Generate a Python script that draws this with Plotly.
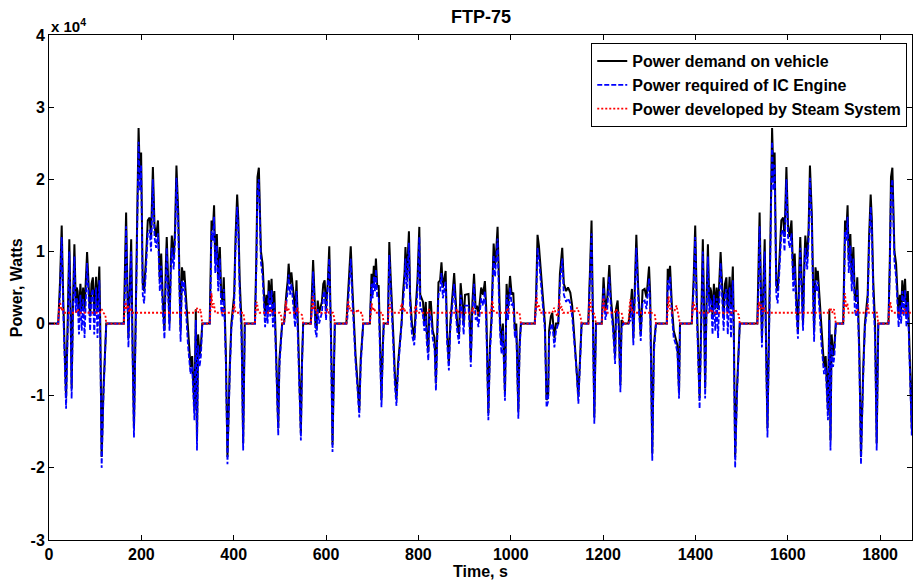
import plotly.graph_objects as go

# ---------------- data (power in units of 10^4 W, time in s) ----------------
# Phase 1 (cold start, 0-505 s)
cold_t = [0, 20, 24, 27.5, 31, 37, 41, 44, 47, 49,
          52, 55, 58, 60, 62, 65, 68, 71, 74, 77,
          82.5, 86, 89, 92, 95, 98, 102, 105, 109, 111,
          114, 118, 124, 162, 164.5, 167, 170, 172, 175, 178,
          181, 184, 188, 191, 194, 197, 199.5, 203, 206, 210,
          214, 218, 221, 225, 228.5, 232, 236, 240, 243, 246,
          250, 253, 255, 258, 261, 264, 266, 270, 273, 276,
          280, 283, 285, 288, 291, 293, 297, 301, 306.5, 310,
          315, 318, 320.5, 323, 326, 329, 332, 348, 350, 352,
          355, 357.5, 360, 363.5, 366.5, 370, 373, 376, 378.5, 381,
          383, 386.5, 389, 391.5, 395, 398, 401, 404, 407.5, 410,
          413, 417, 420.5, 424, 446, 449, 451.5, 454.5, 457, 459,
          462.5, 465, 468, 471, 473.5, 476, 479, 482, 485, 488,
          490, 492.5, 496.5, 499, 502, 505]
cold_demand = [0, 0, 0.6, 1.36, 0.3, -1.03, 0.2, 1.17, 0.1, -0.9,
               0.3, 1.1, 0.3, 0.5, 0.45, 0.1, 0.55, 0.2, 0.5, 0.2,
               0.99, 0.45, 0.1, 0.55, 0.64, 0.15, 0.65, 0.2, 0.79, 0.0,
               -1.85, -0.9, 0, 0, 0.6, 1.54, 0.4, -0.2, 0.5, 1.17,
               -0.3, -1.45, 0.2, 1.5, 2.71, 2.0, 2.37, 0.55, 0.45, 0.9,
               1.43, 1.47, 1.2, 2.17, 1.36, 1.2, 1.43, 0.6, 0.97, 0.4,
               -0.1, 0.8, 1.2, 0.6, 0.0, 0.9, 1.22, 0.9, 1.3, 2.19,
               1.52, 0.5, -0.1, 0.78, 0.6, 0.73, 0.3, -0.1, -0.6, -0.45,
               -1.2, 0.2, -1.62, -0.15, -0.45, -0.3, 0, 0, 0.6, 1.43,
               1.3, 1.64, 0.87, 1.24, 0.6, 1.06, 0.4, 0.3, 0.64, 0.1,
               -0.4, -1.85, -1.0, -0.6, 0, 0.25, 0.4, 1.2, 1.79, 1.45,
               0.6, 0.0, -1.66, 0, 0, 0.9, 2.03, 2.16, 1.35, 1.0,
               0.83, 0.45, 0.1, 0.4, 0.15, 0.6, 0.3, 0.62, 0.1, 0.45,
               0.0, -0.45, -1.45, -0.5, -0.2, 0]
cold_ic = [0, 0, 0.45, 1.2, 0.15, -1.18, 0.05, 1.0, -0.05, -1.04,
           0.15, 0.93, 0.15, 0.35, 0.3, -0.15, 0.4, -0.1, 0.35, -0.2,
           0.84, 0.3, -0.1, 0.4, 0.48, -0.15, 0.5, -0.2, 0.6, -0.2,
           -2.0, -1.0, 0, 0, 0.45, 1.35, 0.2, -0.33, 0.35, 1.0,
           -0.45, -1.58, 0.05, 1.3, 2.52, 1.85, 2.2, 0.4, 0.28, 0.75,
           1.25, 1.3, 1.0, 2.0, 1.2, 1.05, 1.25, 0.45, 0.8, 0.2,
           -0.21, 0.6, 1.05, 0.4, -0.1, 0.75, 1.05, 0.75, 1.15, 2.02,
           1.35, 0.3, -0.25, 0.6, 0.45, 0.58, 0.1, -0.3, -0.7, -0.6,
           -1.34, 0.05, -1.76, -0.3, -0.6, -0.45, 0, 0, 0.45, 1.28,
           1.15, 1.48, 0.7, 1.08, 0.45, 0.9, 0.2, 0.1, 0.48, -0.1,
           -0.55, -1.95, -1.1, -0.7, -0.05, 0.1, 0.25, 1.05, 1.62, 1.3,
           0.4, -0.2, -1.76, 0, 0, 0.75, 1.85, 2.0, 1.2, 0.85,
           0.65, 0.3, -0.05, 0.25, 0.0, 0.45, 0.1, 0.46, -0.05, 0.3,
           -0.2, -0.56, -1.55, -0.6, -0.3, 0]

# Phase 2 (stabilized, 505-1372 s)
trans_t = [509, 512, 514, 517, 519, 522, 525, 528, 530, 533,
           536, 539, 542, 545.5, 548, 550.5, 567, 570, 572, 575,
           577, 579.5, 582, 585, 588, 591, 594, 597, 600, 604,
           607, 610, 612, 614, 617, 619, 644, 646, 648, 651,
           653.5, 657, 660, 664, 668, 672, 675, 680.5, 695, 698.5,
           701, 703.5, 706, 708, 711, 714, 716, 720, 723, 725,
           734, 737, 740, 743, 746, 749, 752.5, 756, 760, 763.5,
           767, 770, 772, 775, 779.5, 782, 786, 791, 795, 798,
           802, 804, 807, 810, 813, 816, 818, 821.5, 824, 827,
           831, 835, 838, 841, 843.5, 847, 850, 853, 856, 859,
           862, 866, 869, 873, 877.5, 881, 884, 888, 891.5, 895,
           898, 901, 905, 908.5, 911, 913.5, 917, 920.5, 924, 927,
           930, 933, 936, 940, 944, 947, 951.5, 955, 958.5, 961,
           963, 966, 968, 971.5, 974, 977, 980, 983, 987.5, 991,
           994, 998.5, 1002, 1005.5, 1009, 1012, 1016.5, 1019, 1022, 1052,
           1055, 1058, 1061, 1064, 1068, 1071, 1074, 1077.5, 1081, 1083,
           1087, 1090, 1094.5, 1098, 1103, 1106.5, 1111.5, 1115, 1120, 1124,
           1129, 1133, 1137, 1142, 1146.5, 1150, 1153.5, 1168, 1171, 1175,
           1178, 1181, 1184.5, 1197, 1201, 1205, 1209, 1213.5, 1217, 1221,
           1226, 1228, 1231.5, 1234, 1237.5, 1240, 1244, 1255, 1259, 1262.5,
           1265.5, 1269, 1272, 1276, 1281.5, 1285.5, 1290, 1294, 1299.5, 1302,
           1304, 1306.5, 1310, 1314.5, 1338, 1340, 1342, 1345, 1349, 1353,
           1357, 1361, 1364.5, 1366.5, 1372]
trans_demand = [0, 0.3, 0.41, 0.6, 0.83, 0.55, 0.71, 0.5, 0.4, 0.1,
                0.6, 0.0, -0.6, -1.52, -0.5, 0, 0, 0.4, 0.88, 0.4,
                0.0, -0.08, 0.32, 0.15, 0.25, 0.3, 0.55, 0.6, 0.2, 0.6,
                1.07, 0.2, -0.6, -1.68, -0.5, 0, 0, 0.2, 0.46, 0.8,
                1.07, 0.5, 0.0, -0.45, -0.8, -1.2, -0.5, 0, 0, 0.69,
                0.5, 0.8, 0.6, 0.9, 0.5, 0.53, 0.0, -1.06, -0.3, 0,
                0, 1.13, 0.64, 0.3, -0.2, -0.7, -1.04, -0.55, -0.2, 0.0,
                0.45, 0.7, 1.06, 0.64, 1.28, 0.4, 0.0, -0.2, 0.3, 0.6,
                1.34, 0.4, 0.35, 0.3, 0.0, 0.3, -0.1, -0.4, 0.3, 0.3,
                -0.1, -0.2, -0.83, 0.0, 0.57, 0.6, 0.85, 0.5, 0.6, 0.73,
                -0.1, -0.55, 0.0, 0.4, 0.7, 0.3, 0.0, -0.15, 0.56, 0.3,
                0.0, 0.4, 0.4, 0.41, 0.1, -0.5, 0.3, 0.69, 0.2, 0.25,
                0.1, 0.3, 0.5, 0.4, 0.59, 0.2, -1.24, -0.3, 0.1, 0.7,
                1.11, 0.8, 0.95, 1.34, 0.6, 0.0, -0.3, 0.0, -0.97, 0.55,
                0.2, 0.66, 0.4, 0.43, -0.1, 0.0, -1.22, -0.3, 0, 0,
                0.4, 1.23, 1.08, 0.8, 0.55, 0.3, 0.0, -1.06, -1.0, -0.1,
                0.1, 0.15, -0.2, 0.0, 0, 0.69, 1.05, 0.55, 0.45, 0.5,
                0.43, 0.25, -0.1, -0.5, -1.01, -0.5, 0, 0, 0.6, 1.43,
                0.1, -1.3, 0, 0, 0.64, 0.2, 0.35, 0.81, 0.35, 0.05,
                -0.45, 0.2, 0.32, 0.0, -0.85, 0.05, 0, 0, 0.2, 0.48,
                -0.2, 0.6, 1.23, 0.5, -0.15, 0.46, 0.48, 0.36, 0.79, 0.4,
                -0.5, -1.8, -0.3, 0, 0, 0.76, 0.6, 0.8, 0.25, -0.1,
                -0.2, -0.3, -0.95, 0, 0]
trans_ic = [0, 0.15, 0.25, 0.45, 0.68, 0.4, 0.55, 0.35, 0.2, -0.05,
            0.45, -0.15, -0.75, -1.62, -0.6, 0, 0, 0.25, 0.72, 0.25,
            -0.1, -0.19, 0.2, 0.0, 0.1, 0.15, 0.4, 0.45, 0.05, 0.45,
            0.9, 0.0, -0.7, -1.78, -0.6, 0, 0, 0.05, 0.3, 0.65,
            0.9, 0.35, -0.1, -0.55, -0.9, -1.3, -0.6, 0, 0, 0.55,
            0.35, 0.65, 0.45, 0.75, 0.35, 0.35, -0.2, -1.16, -0.4, 0,
            0, 0.95, 0.5, 0.15, -0.35, -0.85, -1.14, -0.65, -0.3, -0.05,
            0.3, 0.55, 0.9, 0.48, 1.12, 0.25, -0.15, -0.3, 0.15, 0.45,
            1.2, 0.2, 0.2, 0.1, -0.1, 0.1, -0.25, -0.51, 0.15, 0.1,
            -0.2, -0.35, -0.93, -0.15, 0.4, 0.45, 0.7, 0.35, 0.45, 0.58,
            -0.25, -0.65, -0.1, 0.25, 0.55, 0.15, -0.1, -0.28, 0.4, 0.15,
            -0.15, 0.25, 0.25, 0.25, -0.1, -0.6, 0.15, 0.55, 0.05, 0.1,
            -0.05, 0.15, 0.35, 0.25, 0.45, 0.0, -1.34, -0.4, 0.0, 0.55,
            0.95, 0.65, 0.8, 1.18, 0.45, -0.15, -0.42, -0.1, -1.07, 0.4,
            0.05, 0.5, 0.25, 0.3, -0.2, -0.1, -1.32, -0.4, 0, 0,
            0.25, 1.05, 0.9, 0.65, 0.4, 0.15, -0.1, -1.16, -1.08, -0.2,
            -0.05, 0.0, -0.33, -0.1, 0, 0.55, 0.9, 0.4, 0.3, 0.35,
            0.28, 0.1, -0.2, -0.6, -1.11, -0.6, 0, 0, 0.45, 1.25,
            -0.05, -1.39, 0, 0, 0.5, 0.05, 0.2, 0.65, 0.2, -0.05,
            -0.56, 0.05, 0.18, -0.1, -0.95, -0.05, 0, 0, 0.05, 0.33,
            -0.3, 0.45, 1.05, 0.35, -0.24, 0.3, 0.32, 0.2, 0.63, 0.25,
            -0.6, -1.9, -0.4, 0, 0, 0.6, 0.45, 0.65, 0.1, -0.2,
            -0.28, -0.4, -1.04, 0, 0]

# Phase 3 (hot start, from 1372 s) repeats the phase-1 trace
hot_t = [1372, 1392, 1396, 1399.5, 1403, 1409, 1413, 1416, 1419, 1421,
         1424, 1427, 1430, 1432, 1434, 1437, 1440, 1443, 1446, 1449,
         1454.5, 1458, 1461, 1464, 1467, 1470, 1474, 1477, 1481, 1483,
         1486, 1490, 1496, 1534, 1536.5, 1539, 1542, 1544, 1547, 1550,
         1553, 1556, 1560, 1563, 1566, 1569, 1571.5, 1575, 1578, 1582,
         1586, 1590, 1593, 1597, 1600.5, 1604, 1608, 1612, 1615, 1618,
         1622, 1625, 1627, 1630, 1633, 1636, 1638, 1642, 1645, 1648,
         1652, 1655, 1657, 1660, 1663, 1665, 1669, 1673, 1678.5, 1682,
         1687, 1690, 1692.5, 1695, 1698, 1701, 1704, 1720, 1722, 1724,
         1727, 1729.5, 1732, 1735.5, 1738.5, 1742, 1745, 1748, 1750.5, 1753,
         1755, 1758.5, 1761, 1763.5, 1767, 1770, 1773, 1776, 1779.5, 1782,
         1785, 1789, 1792.5, 1796, 1818, 1821, 1823.5, 1826.5, 1829, 1831,
         1834.5, 1837, 1840, 1843, 1845.5, 1848, 1851, 1854, 1857, 1860,
         1862, 1864.5, 1868.5, 1871, 1874, 1877]
hot_demand = list(cold_demand)
hot_ic = list(cold_ic)

# Steam-system power
cold_steam_t = [0, 20, 22, 24, 27, 30, 33, 58, 62, 66, 110, 114, 118, 122, 124,
                162, 164, 166, 168, 171, 174, 177, 180, 316, 320, 324, 328, 332,
                348, 350, 352, 354, 357, 360, 375, 378, 381, 398, 401, 404, 421, 424,
                446, 448, 450, 453, 456, 478, 481, 484, 500, 503, 505]
cold_steam = [0, 0, 0.25, 0.3, 0.18, 0.22, 0.15, 0.15, 0.2, 0.15, 0.15, 0.2, 0.15, 0.12, 0,
              0, 0.2, 0.3, 0.2, 0.26, 0.16, 0.22, 0.15, 0.15, 0.22, 0.15, 0.2, 0,
              0, 0.25, 0.42, 0.22, 0.28, 0.15, 0.15, 0.2, 0.15, 0.15, 0.27, 0.15, 0.15, 0,
              0, 0.22, 0.3, 0.18, 0.15, 0.15, 0.2, 0.15, 0.15, 0.1, 0]
trans_steam_t = [509, 511, 513, 515, 518, 521, 535, 538, 541, 548, 550.5,
                 567, 569, 571, 573, 576, 579, 600, 603, 606, 615, 617, 619,
                 644, 646, 648, 650, 653, 656, 665, 668, 672, 678, 680.5,
                 695, 697, 699, 701, 704, 707, 722, 725,
                 734, 736, 738, 740, 743, 760, 764, 766, 769, 772, 791, 794, 797, 820, 823, 826,
                 880, 884, 887, 915, 918, 921, 957, 960, 963, 966, 990, 993, 996, 1019, 1022,
                 1052, 1054, 1056, 1058, 1061, 1064, 1090, 1094, 1097, 1101, 1103, 1105, 1107, 1110, 1113,
                 1128, 1132, 1136, 1140, 1144, 1148, 1151, 1153.5,
                 1168, 1170, 1172, 1174, 1178, 1182, 1184.5,
                 1197, 1199, 1201, 1203, 1206, 1209, 1225, 1228, 1231, 1240, 1242, 1244,
                 1255, 1257, 1259, 1261, 1264, 1267, 1300, 1302, 1305, 1312, 1314.5,
                 1338, 1340, 1342, 1344, 1347, 1350, 1355, 1359, 1362, 1364.5, 1366.5, 1372]
trans_steam = [0, 0.2, 0.32, 0.18, 0.22, 0.15, 0.15, 0.22, 0.15, 0.12, 0,
               0, 0.22, 0.38, 0.2, 0.24, 0.15, 0.15, 0.2, 0.15, 0.15, 0.1, 0,
               0, 0.2, 0.32, 0.2, 0.22, 0.15, 0.15, 0.2, 0.15, 0.15, 0,
               0, 0.22, 0.28, 0.18, 0.22, 0.15, 0.15, 0,
               0, 0.22, 0.27, 0.2, 0.15, 0.15, 0.28, 0.18, 0.22, 0.15, 0.15, 0.25, 0.15, 0.15, 0.2, 0.15,
               0.15, 0.2, 0.15, 0.15, 0.22, 0.15, 0.15, 0.32, 0.18, 0.15, 0.15, 0.22, 0.15, 0.15, 0,
               0, 0.25, 0.4, 0.22, 0.25, 0.15, 0.15, 0.22, 0.15, 0.1, 0.15, 0.34, 0.2, 0.24, 0.15,
               0.15, 0.2, 0.15, 0.18, 0.22, 0.15, 0.1, 0,
               0, 0.25, 0.34, 0.18, 0.16, 0.12, 0,
               0, 0.25, 0.36, 0.18, 0.22, 0.15, 0.15, 0.2, 0.15, 0.15, 0.1, 0,
               0, 0.22, 0.34, 0.18, 0.2, 0.15, 0.15, 0.2, 0.15, 0.12, 0,
               0, 0.25, 0.38, 0.2, 0.23, 0.15, 0.18, 0.25, 0.15, 0.1, 0, 0]
hot_steam_t = [1372, 1392, 1394, 1396, 1399, 1402, 1405, 1430, 1434, 1438, 1482, 1486, 1490, 1494, 1496,
               1534, 1536, 1538, 1540, 1543, 1546, 1549, 1552, 1688, 1692, 1696, 1700, 1704,
               1720, 1722, 1724, 1726, 1729, 1732, 1747, 1750, 1753, 1770, 1773, 1776, 1793, 1796,
               1818, 1820, 1822, 1825, 1828, 1850, 1853, 1856, 1872, 1875, 1877]
hot_steam = list(cold_steam)

x_ticks = [0, 200, 400, 600, 800, 1000, 1200, 1400, 1600, 1800]
x_tick_labels = ["0", "200", "400", "600", "800", "1000", "1200", "1400", "1600", "1800"]
y_ticks = [-3, -2, -1, 0, 1, 2, 3, 4]
y_tick_labels = ["-3", "-2", "-1", "0", "1", "2", "3", "4"]

series_names = ["Power demand on vehicle",
                "Power required of IC Engine",
                "Power developed by Steam System"]

# ---------------- figure ----------------
FONT = "Liberation Sans, Arial, Helvetica, sans-serif"

fig = go.Figure()
fig.add_trace(go.Scatter(
    x=cold_t + trans_t + hot_t, y=cold_demand + trans_demand + hot_demand,
    mode="lines", name=series_names[0],
    line=dict(color="black", width=2)))
fig.add_trace(go.Scatter(
    x=cold_t + trans_t + hot_t, y=cold_ic + trans_ic + hot_ic,
    mode="lines", name=series_names[1],
    line=dict(color="#0000ff", width=1.8, dash="5px,2px")))
fig.add_trace(go.Scatter(
    x=cold_steam_t + trans_steam_t + hot_steam_t, y=cold_steam + trans_steam + hot_steam,
    mode="lines", name=series_names[2],
    line=dict(color="#ff0000", width=1.8, dash="2px,2px")))

axis_common = dict(
    showline=True, linecolor="black", linewidth=1, mirror="ticks",
    ticks="inside", ticklen=5, tickcolor="black", tickwidth=1,
    showgrid=False, zeroline=False,
    tickfont=dict(family=FONT, size=16, color="black"),
)

fig.update_layout(
    width=913, height=583,
    margin=dict(l=49, r=1, t=35, b=43),
    paper_bgcolor="white", plot_bgcolor="white",
    showlegend=True,
    legend=dict(
        x=0.9945, xanchor="right", y=0.984, yanchor="top",
        bgcolor="white", bordercolor="black", borderwidth=1,
        font=dict(family=FONT, size=16, color="black", weight="bold"),
        tracegroupgap=0, itemwidth=30,
    ),
    xaxis=dict(range=[0, 1869], tickvals=x_ticks,
               ticktext=["<b>%s</b>" % s for s in x_tick_labels], **axis_common),
    yaxis=dict(range=[-3, 4], tickvals=y_ticks,
               ticktext=["<b>%s</b>" % s for s in y_tick_labels], **axis_common),
    annotations=[
        dict(text="<b>FTP-75</b>", xref="paper", yref="paper", x=0.5, y=1.036,
             xanchor="center", yanchor="middle", showarrow=False,
             font=dict(family=FONT, size=18, color="black")),
        dict(text="<b>x 10<sup>4</sup></b>", xref="paper", yref="paper", x=0.0, y=1.0,
             xanchor="left", yanchor="bottom", showarrow=False, yshift=-2,
             font=dict(family=FONT, size=15, color="black")),
        dict(text="<b>Time, s</b>", xref="paper", yref="paper", x=0.5, y=-0.0614,
             xanchor="center", yanchor="middle", showarrow=False,
             font=dict(family=FONT, size=16, color="black")),
        dict(text="<b>Power, Watts</b>", xref="paper", yref="paper", x=-0.0374, y=0.5,
             xanchor="center", yanchor="middle", showarrow=False, textangle=-90,
             font=dict(family=FONT, size=16, color="black")),
    ],
)

fig.write_html("out.html",
               config={"displayModeBar": False},
               post_script="document.body.style.margin='0px';document.body.style.overflow='hidden';")
